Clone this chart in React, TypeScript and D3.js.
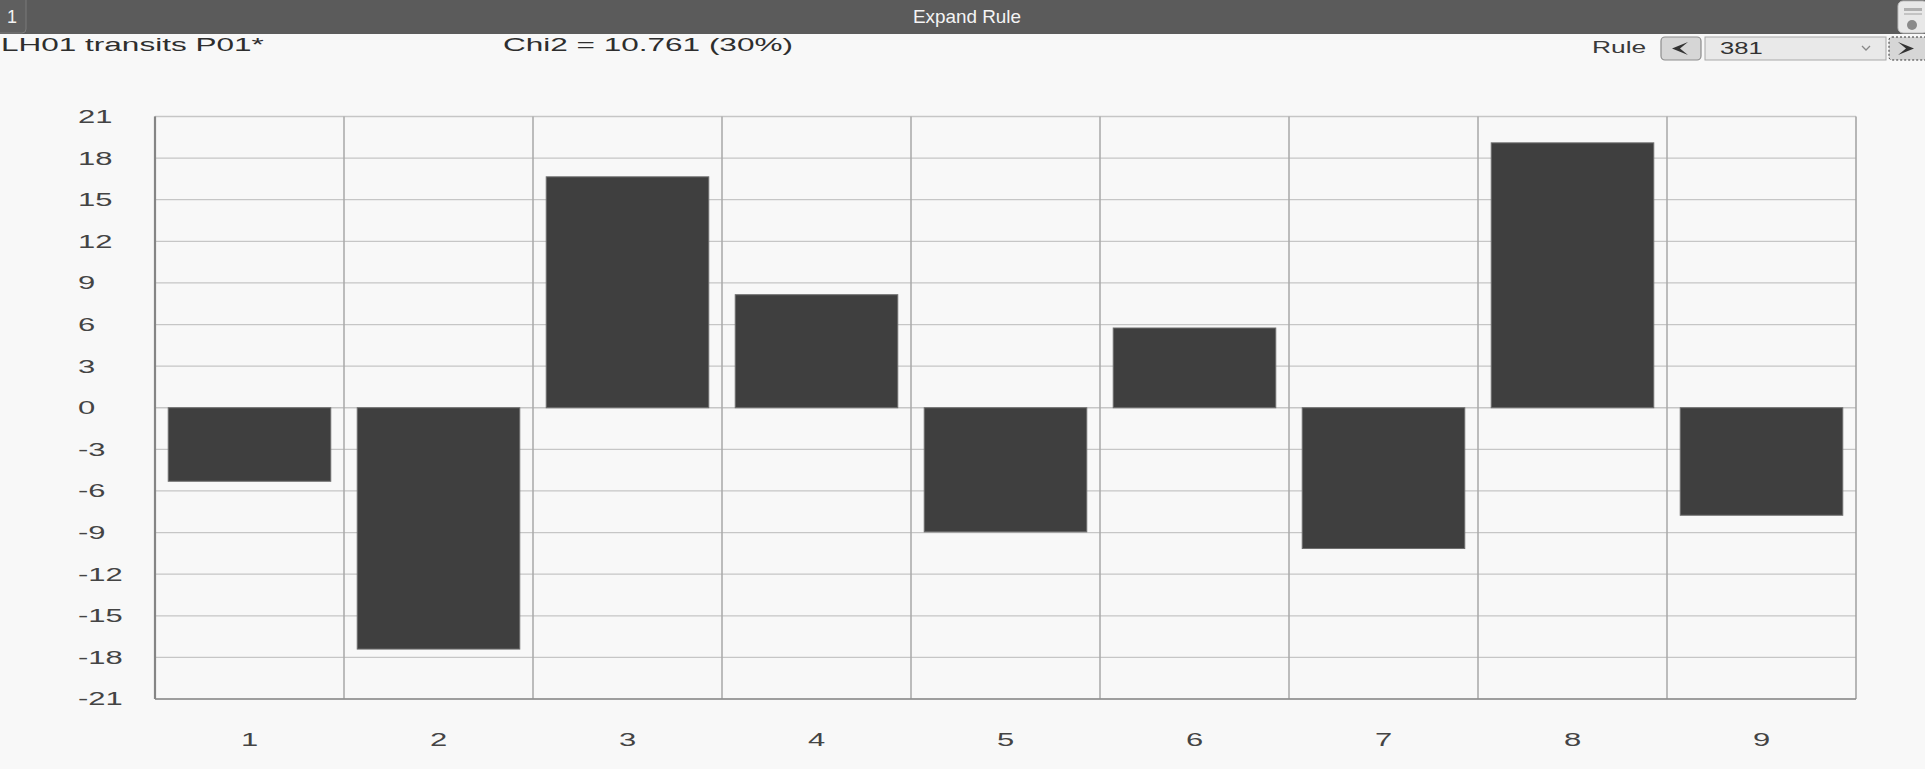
import React from "react";
import * as d3 from "d3";

const categories = ["1", "2", "3", "4", "5", "6", "7", "8", "9"];
const values = [-5.3, -17.4, 16.65, 8.15, -8.95, 5.75, -10.15, 19.1, -7.75];
const yTickValues = [21, 18, 15, 12, 9, 6, 3, 0, -3, -6, -9, -12, -15, -18, -21];
const windowTitle = "Expand Rule";
const tabLabel = "1";
const chartTitle = "LH01 transits P01*";
const chiLabel = "Chi2 = 10.761 (30%)";
const ruleLabel = "Rule";
const ruleValue = "381";

const W = 1925;
const H = 769;
const FONT = "'Liberation Sans', Arial, sans-serif";

function T(props: {
  x: number;
  y: number;
  sx?: number;
  size: number;
  fill?: string;
  anchor?: string;
  children: React.ReactNode;
}) {
  const { x, y, sx = 1.55, size, fill = "#3a3a3a", anchor = "start", children } = props;
  return (
    <text
      transform={`translate(${x},${y}) scale(${sx},1)`}
      fontFamily={FONT}
      fontSize={size}
      fill={fill}
      textAnchor={anchor}
      dominantBaseline="central"
    >
      {children}
    </text>
  );
}

export default function App() {
  const left = 155;
  const right = 1856;
  const top = 116.5;
  const bottom = 699;

  const x = d3
    .scaleBand<string>()
    .domain(categories)
    .range([left, right])
    .paddingInner(0.14)
    .paddingOuter(0.07);
  const y = d3.scaleLinear().domain([-21, 21]).range([bottom, top]);
  const step = x.step();
  const bandEdges = categories.map((c) => (x(c) as number) - (x.paddingInner() * step) / 2);

  return (
    <svg
      width={W}
      height={H}
      style={{ position: "absolute", left: 0, top: 0, display: "block" }}
      xmlns="http://www.w3.org/2000/svg"
    >
      <rect x={0} y={0} width={W} height={H} fill="#f8f8f8" />

      {/* window title bar */}
      <rect x={0} y={0} width={W} height={34} fill="#5b5b5b" />
      <rect x={-4} y={-4} width={30} height={37} rx={4} fill="#5f5f5f" stroke="#7a7a7a" strokeWidth={1} />
      <T x={12} y={17} size={18} sx={1.0} fill="#f2f2f2" anchor="middle">{tabLabel}</T>
      <T x={967} y={17} size={18} sx={1.05} fill="#f4f4f4" anchor="middle">{windowTitle}</T>
      <rect x={1898} y={1} width={30} height={32} rx={5} fill="#e8e8e8" stroke="#bdbdbd" />
      <rect x={1904} y={8} width={18} height={3} fill="#b0b0b0" />
      <rect x={1904} y={13} width={18} height={2} fill="#c4c4c4" />
      <circle cx={1912} cy={25} r={5} fill="#8a8a8a" />

      {/* header row */}
      <T x={1} y={44} size={19} sx={1.66} fill="#2e2e2e">{chartTitle}</T>
      <T x={503} y={44} size={19} sx={1.66} fill="#2e2e2e">{chiLabel}</T>
      <T x={1592} y={48} size={16} sx={1.65} fill="#3a3a3a">{ruleLabel}</T>
      <rect x={1661} y={37} width={40} height={23} rx={4} fill="#d6d6d6" stroke="#8c8c8c" strokeWidth={1.2} />
      <path d="M1688,42 L1672,48.5 L1688,55 L1680,48.5 Z" fill="#333" />
      <rect x={1705} y={37} width={181} height={23} fill="#e9e9e9" stroke="#a8a8a8" strokeWidth={1} />
      <T x={1720} y={48.5} size={16} sx={1.6} fill="#333">{ruleValue}</T>
      <path d="M1862,46 L1866,50 L1870,46" fill="none" stroke="#888" strokeWidth={1.3} />
      <rect x={1889} y={37} width={40} height={23} rx={3} fill="#d6d6d6" stroke="#333" strokeWidth={1} strokeDasharray="2,2" />
      <path d="M1898,42 L1914,48.5 L1898,55 L1906,48.5 Z" fill="#333" />

      {/* horizontal grid */}
      {yTickValues.map((v) => (
        <line key={"h" + v} x1={left} x2={right} y1={y(v)} y2={y(v)} stroke="#c6c6c6" strokeWidth={1.3} />
      ))}
      {/* vertical grid at category boundaries */}
      {bandEdges.map((bx, i) => (
        <line key={"v" + i} x1={bx} x2={bx} y1={top} y2={bottom} stroke="#a9a9a9" strokeWidth={1.5} />
      ))}
      {/* frame */}
      <line x1={right} x2={right} y1={top} y2={bottom} stroke="#a0a0a0" strokeWidth={1.5} />
      <line x1={left} x2={right} y1={bottom} y2={bottom} stroke="#8c8c8c" strokeWidth={1.5} />
      <line x1={left} x2={left} y1={top} y2={bottom} stroke="#858585" strokeWidth={2.2} />

      {/* bars */}
      {values.map((v, i) => {
        const c = categories[i];
        const y0 = y(0);
        const yv = y(v);
        return (
          <rect
            key={"b" + c}
            x={x(c) as number}
            y={Math.min(y0, yv)}
            width={x.bandwidth()}
            height={Math.abs(yv - y0)}
            fill="#3f3f3f"
            stroke="#6e6e6e"
            strokeWidth={1}
          />
        );
      })}

      {/* y tick labels */}
      {yTickValues.map((v) => (
        <T key={"yl" + v} x={78} y={y(v)} size={18} sx={1.72} fill="#444">
          {String(v)}
        </T>
      ))}

      {/* x tick labels */}
      {categories.map((c) => (
        <T key={"xl" + c} x={(x(c) as number) + x.bandwidth() / 2} y={740} size={18} sx={1.72} fill="#444" anchor="middle">
          {c}
        </T>
      ))}
    </svg>
  );
}
